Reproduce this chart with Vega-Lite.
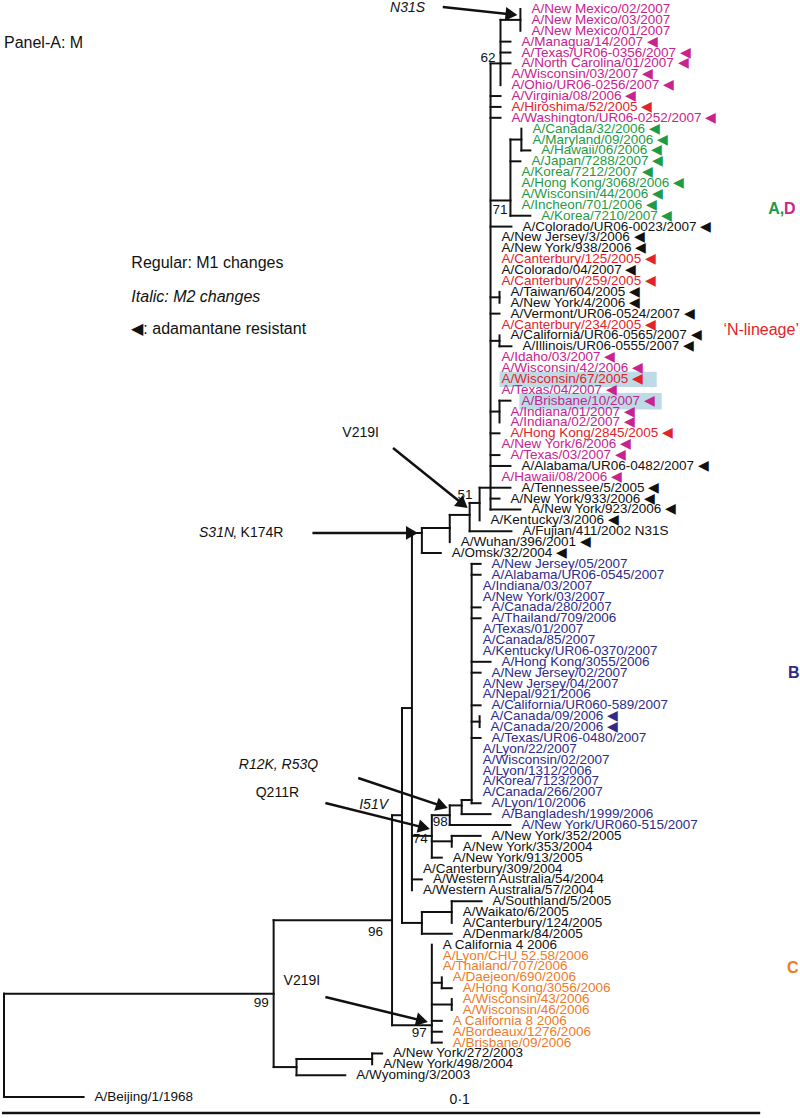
{
  "$schema": "https://vega.github.io/schema/vega-lite/v6.json",
  "width": 800,
  "height": 1118,
  "autosize": {"type": "fit", "contains": "padding"},
  "padding": 0,
  "background": "white",
  "config": {"view": {"stroke": null}, "text": {"font": "Liberation Sans"}},
  "datasets": {
    "leaves": [
      {"row": 0, "x": 521, "name": "A/New Mexico/02/2007", "grp": "D", "res": false},
      {"row": 1, "x": 521, "name": "A/New Mexico/03/2007", "grp": "D", "res": false},
      {"row": 2, "x": 521, "name": "A/New Mexico/01/2007", "grp": "D", "res": false},
      {"row": 3, "x": 511, "name": "A/Managua/14/2007", "grp": "D", "res": true},
      {"row": 4, "x": 511, "name": "A/Texas/UR06-0356/2007", "grp": "D", "res": true},
      {"row": 5, "x": 511, "name": "A/North Carolina/01/2007", "grp": "D", "res": true},
      {"row": 6, "x": 501, "name": "A/Wisconsin/03/2007", "grp": "D", "res": true},
      {"row": 7, "x": 501, "name": "A/Ohio/UR06-0256/2007", "grp": "D", "res": true},
      {"row": 8, "x": 501, "name": "A/Virginia/08/2006", "grp": "D", "res": true},
      {"row": 9, "x": 501, "name": "A/Hiroshima/52/2005", "grp": "N", "res": true},
      {"row": 10, "x": 501, "name": "A/Washington/UR06-0252/2007", "grp": "D", "res": true},
      {"row": 11, "x": 522, "name": "A/Canada/32/2006", "grp": "A", "res": true},
      {"row": 12, "x": 522, "name": "A/Maryland/09/2006", "grp": "A", "res": true},
      {"row": 13, "x": 531, "name": "A/Hawaii/06/2006", "grp": "A", "res": true},
      {"row": 14, "x": 521, "name": "A/Japan/7288/2007", "grp": "A", "res": true},
      {"row": 15, "x": 511, "name": "A/Korea/7212/2007", "grp": "A", "res": true},
      {"row": 16, "x": 511, "name": "A/Hong Kong/3068/2006", "grp": "A", "res": true},
      {"row": 17, "x": 511, "name": "A/Wisconsin/44/2006", "grp": "A", "res": true},
      {"row": 18, "x": 511, "name": "A/Incheon/701/2006", "grp": "A", "res": true},
      {"row": 19, "x": 531, "name": "A/Korea/7210/2007", "grp": "A", "res": true},
      {"row": 20, "x": 512, "name": "A/Colorado/UR06-0023/2007", "grp": "other", "res": true},
      {"row": 21, "x": 491, "name": "A/New Jersey/3/2006", "grp": "other", "res": true},
      {"row": 22, "x": 491, "name": "A/New York/938/2006", "grp": "other", "res": true},
      {"row": 23, "x": 491, "name": "A/Canterbury/125/2005", "grp": "N", "res": true},
      {"row": 24, "x": 491, "name": "A/Colorado/04/2007", "grp": "other", "res": true},
      {"row": 25, "x": 491, "name": "A/Canterbury/259/2005", "grp": "N", "res": true},
      {"row": 26, "x": 500, "name": "A/Taiwan/604/2005", "grp": "other", "res": true},
      {"row": 27, "x": 500, "name": "A/New York/4/2006", "grp": "other", "res": true},
      {"row": 28, "x": 500, "name": "A/Vermont/UR06-0524/2007", "grp": "other", "res": true},
      {"row": 29, "x": 491, "name": "A/Canterbury/234/2005", "grp": "N", "res": true},
      {"row": 30, "x": 500, "name": "A/California/UR06-0565/2007", "grp": "other", "res": true},
      {"row": 31, "x": 512, "name": "A/Illinois/UR06-0555/2007", "grp": "other", "res": true},
      {"row": 32, "x": 491, "name": "A/Idaho/03/2007", "grp": "D", "res": true},
      {"row": 33, "x": 491, "name": "A/Wisconsin/42/2006", "grp": "D", "res": true},
      {"row": 34, "x": 491, "name": "A/Wisconsin/67/2005", "grp": "N", "res": true},
      {"row": 35, "x": 491, "name": "A/Texas/04/2007", "grp": "D", "res": true},
      {"row": 36, "x": 511, "name": "A/Brisbane/10/2007", "grp": "D", "res": true},
      {"row": 37, "x": 500, "name": "A/Indiana/01/2007", "grp": "D", "res": true},
      {"row": 38, "x": 500, "name": "A/Indiana/02/2007", "grp": "D", "res": true},
      {"row": 39, "x": 500, "name": "A/Hong Kong/2845/2005", "grp": "N", "res": true},
      {"row": 40, "x": 491, "name": "A/New York/6/2006", "grp": "D", "res": true},
      {"row": 41, "x": 500, "name": "A/Texas/03/2007", "grp": "D", "res": true},
      {"row": 42, "x": 511, "name": "A/Alabama/UR06-0482/2007", "grp": "other", "res": true},
      {"row": 43, "x": 491, "name": "A/Hawaii/08/2006", "grp": "D", "res": true},
      {"row": 44, "x": 511, "name": "A/Tennessee/5/2005", "grp": "other", "res": true},
      {"row": 45, "x": 500, "name": "A/New York/933/2006", "grp": "other", "res": true},
      {"row": 46, "x": 521, "name": "A/New York/923/2006", "grp": "other", "res": true},
      {"row": 47, "x": 480, "name": "A/Kentucky/3/2006", "grp": "other", "res": true},
      {"row": 48, "x": 512, "name": "A/Fujian/411/2002 N31S", "grp": "other", "res": false},
      {"row": 49, "x": 450, "name": "A/Wuhan/396/2001", "grp": "other", "res": true},
      {"row": 50, "x": 441, "name": "A/Omsk/32/2004", "grp": "other", "res": true},
      {"row": 51, "x": 481, "name": "A/New Jersey/05/2007", "grp": "B", "res": false},
      {"row": 52, "x": 481, "name": "A/Alabama/UR06-0545/2007", "grp": "B", "res": false},
      {"row": 53, "x": 472, "name": "A/Indiana/03/2007", "grp": "B", "res": false},
      {"row": 54, "x": 472, "name": "A/New York/03/2007", "grp": "B", "res": false},
      {"row": 55, "x": 481, "name": "A/Canada/280/2007", "grp": "B", "res": false},
      {"row": 56, "x": 481, "name": "A/Thailand/709/2006", "grp": "B", "res": false},
      {"row": 57, "x": 472, "name": "A/Texas/01/2007", "grp": "B", "res": false},
      {"row": 58, "x": 472, "name": "A/Canada/85/2007", "grp": "B", "res": false},
      {"row": 59, "x": 472, "name": "A/Kentucky/UR06-0370/2007", "grp": "B", "res": false},
      {"row": 60, "x": 491, "name": "A/Hong Kong/3055/2006", "grp": "B", "res": false},
      {"row": 61, "x": 481, "name": "A/New Jersey/02/2007", "grp": "B", "res": false},
      {"row": 62, "x": 472, "name": "A/New Jersey/04/2007", "grp": "B", "res": false},
      {"row": 63, "x": 472, "name": "A/Nepal/921/2006", "grp": "B", "res": false},
      {"row": 64, "x": 481, "name": "A/California/UR060-589/2007", "grp": "B", "res": false},
      {"row": 65, "x": 480, "name": "A/Canada/09/2006", "grp": "B", "res": true},
      {"row": 66, "x": 480, "name": "A/Canada/20/2006", "grp": "B", "res": true},
      {"row": 67, "x": 481, "name": "A/Texas/UR06-0480/2007", "grp": "B", "res": false},
      {"row": 68, "x": 472, "name": "A/Lyon/22/2007", "grp": "B", "res": false},
      {"row": 69, "x": 472, "name": "A/Wisconsin/02/2007", "grp": "B", "res": false},
      {"row": 70, "x": 472, "name": "A/Lyon/1312/2006", "grp": "B", "res": false},
      {"row": 71, "x": 472, "name": "A/Korea/7123/2007", "grp": "B", "res": false},
      {"row": 72, "x": 472, "name": "A/Canada/266/2007", "grp": "B", "res": false},
      {"row": 73, "x": 481, "name": "A/Lyon/10/2006", "grp": "B", "res": false},
      {"row": 74, "x": 491, "name": "A/Bangladesh/1999/2006", "grp": "B", "res": false},
      {"row": 75, "x": 511, "name": "A/New York/UR060-515/2007", "grp": "B", "res": false},
      {"row": 76, "x": 481, "name": "A/New York/352/2005", "grp": "other", "res": false},
      {"row": 77, "x": 452, "name": "A/New York/353/2004", "grp": "other", "res": false},
      {"row": 78, "x": 442, "name": "A/New York/913/2005", "grp": "other", "res": false},
      {"row": 79, "x": 412, "name": "A/Canterbury/309/2004", "grp": "other", "res": false},
      {"row": 80, "x": 422, "name": "A/Western Australia/54/2004", "grp": "other", "res": false},
      {"row": 81, "x": 412, "name": "A/Western Australia/57/2004", "grp": "other", "res": false},
      {"row": 82, "x": 482, "name": "A/Southland/5/2005", "grp": "other", "res": false},
      {"row": 83, "x": 452, "name": "A/Waikato/6/2005", "grp": "other", "res": false},
      {"row": 84, "x": 452, "name": "A/Canterbury/124/2005", "grp": "other", "res": false},
      {"row": 85, "x": 452, "name": "A/Denmark/84/2005", "grp": "other", "res": false},
      {"row": 86, "x": 432, "name": "A California 4 2006", "grp": "other", "res": false},
      {"row": 87, "x": 432, "name": "A/Lyon/CHU 52.58/2006", "grp": "C", "res": false},
      {"row": 88, "x": 432, "name": "A/Thailand/707/2006", "grp": "C", "res": false},
      {"row": 89, "x": 442, "name": "A/Daejeon/690/2006", "grp": "C", "res": false},
      {"row": 90, "x": 452, "name": "A/Hong Kong/3056/2006", "grp": "C", "res": false},
      {"row": 91, "x": 452, "name": "A/Wisconsin/43/2006", "grp": "C", "res": false},
      {"row": 92, "x": 452, "name": "A/Wisconsin/46/2006", "grp": "C", "res": false},
      {"row": 93, "x": 442, "name": "A California 8 2006", "grp": "C", "res": false},
      {"row": 94, "x": 442, "name": "A/Bordeaux/1276/2006", "grp": "C", "res": false},
      {"row": 95, "x": 442, "name": "A/Brisbane/09/2006", "grp": "C", "res": false},
      {"row": 96, "x": 382, "name": "A/New York/272/2003", "grp": "other", "res": false},
      {"row": 97, "x": 372, "name": "A/New York/498/2004", "grp": "other", "res": false},
      {"row": 98, "x": 345, "name": "A/Wyoming/3/2003", "grp": "other", "res": false},
      {"row": 100, "x": 82, "name": "A/Beijing/1/1968", "grp": "other", "res": false}
    ],
    "segs": [
      {"x": 2, "x2": 2, "row": 90.5, "row2": 100},
      {"x": 2, "x2": 273, "row": 90.5, "row2": 90.5},
      {"x": 2, "x2": 82, "row": 100, "row2": 100},
      {"x": 273, "x2": 273, "row": 83.75, "row2": 97.25},
      {"x": 273, "x2": 392, "row": 83.75, "row2": 83.75},
      {"x": 273, "x2": 296, "row": 97.25, "row2": 97.25},
      {"x": 296, "x2": 296, "row": 96.5, "row2": 98},
      {"x": 296, "x2": 372, "row": 96.5, "row2": 96.5},
      {"x": 296, "x2": 345, "row": 98, "row2": 98},
      {"x": 372, "x2": 372, "row": 96, "row2": 97},
      {"x": 372, "x2": 382, "row": 96, "row2": 96},
      {"x": 392, "x2": 392, "row": 74.1, "row2": 93.4},
      {"x": 392, "x2": 402, "row": 74.1, "row2": 74.1},
      {"x": 392, "x2": 432, "row": 93.4, "row2": 93.4},
      {"x": 432, "x2": 432, "row": 86, "row2": 95},
      {"x": 432, "x2": 442, "row": 89.5, "row2": 89.5},
      {"x": 442, "x2": 442, "row": 89, "row2": 90},
      {"x": 442, "x2": 452, "row": 90, "row2": 90},
      {"x": 432, "x2": 452, "row": 91.5, "row2": 91.5},
      {"x": 452, "x2": 452, "row": 91, "row2": 92},
      {"x": 432, "x2": 442, "row": 93, "row2": 93},
      {"x": 432, "x2": 442, "row": 94, "row2": 94},
      {"x": 432, "x2": 442, "row": 95, "row2": 95},
      {"x": 402, "x2": 402, "row": 64.25, "row2": 84},
      {"x": 402, "x2": 412, "row": 64.25, "row2": 64.25},
      {"x": 402, "x2": 422, "row": 84, "row2": 84},
      {"x": 422, "x2": 422, "row": 83, "row2": 85},
      {"x": 422, "x2": 452, "row": 83, "row2": 83},
      {"x": 422, "x2": 452, "row": 85, "row2": 85},
      {"x": 452, "x2": 452, "row": 82, "row2": 84},
      {"x": 452, "x2": 482, "row": 82, "row2": 82},
      {"x": 412, "x2": 412, "row": 48.16, "row2": 81},
      {"x": 412, "x2": 422, "row": 48.16, "row2": 48.16},
      {"x": 412, "x2": 432, "row": 76, "row2": 76},
      {"x": 412, "x2": 422, "row": 80, "row2": 80},
      {"x": 432, "x2": 432, "row": 74.1, "row2": 78},
      {"x": 432, "x2": 450, "row": 74.1, "row2": 74.1},
      {"x": 432, "x2": 452, "row": 76.5, "row2": 76.5},
      {"x": 432, "x2": 442, "row": 78, "row2": 78},
      {"x": 452, "x2": 452, "row": 76, "row2": 77},
      {"x": 452, "x2": 481, "row": 76, "row2": 76},
      {"x": 450, "x2": 450, "row": 73.2, "row2": 75},
      {"x": 450, "x2": 462, "row": 73.2, "row2": 73.2},
      {"x": 450, "x2": 511, "row": 75, "row2": 75},
      {"x": 462, "x2": 462, "row": 72.7, "row2": 74},
      {"x": 462, "x2": 472, "row": 72.7, "row2": 72.7},
      {"x": 462, "x2": 491, "row": 74, "row2": 74},
      {"x": 472, "x2": 472, "row": 51, "row2": 73},
      {"x": 472, "x2": 481, "row": 51, "row2": 51},
      {"x": 472, "x2": 481, "row": 52, "row2": 52},
      {"x": 472, "x2": 481, "row": 55, "row2": 55},
      {"x": 472, "x2": 481, "row": 56, "row2": 56},
      {"x": 472, "x2": 491, "row": 60, "row2": 60},
      {"x": 472, "x2": 481, "row": 61, "row2": 61},
      {"x": 472, "x2": 481, "row": 64, "row2": 64},
      {"x": 472, "x2": 480, "row": 65.5, "row2": 65.5},
      {"x": 480, "x2": 480, "row": 65, "row2": 66},
      {"x": 472, "x2": 481, "row": 67, "row2": 67},
      {"x": 472, "x2": 481, "row": 73, "row2": 73},
      {"x": 422, "x2": 422, "row": 47.7, "row2": 50},
      {"x": 422, "x2": 450, "row": 47.7, "row2": 47.7},
      {"x": 422, "x2": 441, "row": 50, "row2": 50},
      {"x": 450, "x2": 450, "row": 46.5, "row2": 49},
      {"x": 450, "x2": 470, "row": 46.5, "row2": 46.5},
      {"x": 470, "x2": 470, "row": 45.4, "row2": 48},
      {"x": 470, "x2": 480, "row": 45.4, "row2": 45.4},
      {"x": 470, "x2": 512, "row": 48, "row2": 48},
      {"x": 480, "x2": 480, "row": 44, "row2": 47},
      {"x": 480, "x2": 491, "row": 44, "row2": 44},
      {"x": 491, "x2": 491, "row": 5, "row2": 46},
      {"x": 491, "x2": 501, "row": 5, "row2": 5},
      {"x": 491, "x2": 501, "row": 8, "row2": 8},
      {"x": 491, "x2": 501, "row": 9, "row2": 9},
      {"x": 491, "x2": 501, "row": 10, "row2": 10},
      {"x": 491, "x2": 511, "row": 17.6, "row2": 17.6},
      {"x": 491, "x2": 512, "row": 20, "row2": 20},
      {"x": 491, "x2": 500, "row": 26.5, "row2": 26.5},
      {"x": 500, "x2": 500, "row": 26, "row2": 27},
      {"x": 491, "x2": 500, "row": 28, "row2": 28},
      {"x": 491, "x2": 500, "row": 30.5, "row2": 30.5},
      {"x": 500, "x2": 500, "row": 30, "row2": 31},
      {"x": 500, "x2": 512, "row": 31, "row2": 31},
      {"x": 491, "x2": 500, "row": 37, "row2": 37},
      {"x": 500, "x2": 500, "row": 36, "row2": 38},
      {"x": 500, "x2": 511, "row": 36, "row2": 36},
      {"x": 491, "x2": 500, "row": 39, "row2": 39},
      {"x": 491, "x2": 500, "row": 41, "row2": 41},
      {"x": 491, "x2": 511, "row": 42, "row2": 42},
      {"x": 491, "x2": 511, "row": 44, "row2": 44},
      {"x": 491, "x2": 500, "row": 45, "row2": 45},
      {"x": 491, "x2": 521, "row": 46, "row2": 46},
      {"x": 501, "x2": 501, "row": 1, "row2": 7},
      {"x": 501, "x2": 521, "row": 1, "row2": 1},
      {"x": 521, "x2": 521, "row": 0, "row2": 2},
      {"x": 501, "x2": 511, "row": 3, "row2": 3},
      {"x": 501, "x2": 511, "row": 4, "row2": 4},
      {"x": 501, "x2": 511, "row": 5, "row2": 5},
      {"x": 511, "x2": 511, "row": 12, "row2": 19},
      {"x": 511, "x2": 522, "row": 12, "row2": 12},
      {"x": 522, "x2": 522, "row": 11, "row2": 13},
      {"x": 522, "x2": 531, "row": 13, "row2": 13},
      {"x": 511, "x2": 521, "row": 14, "row2": 14},
      {"x": 511, "x2": 531, "row": 19, "row2": 19}
    ],
    "boxes": [
      {"x": 500, "x2": 658, "row": 33.35, "row2": 34.75},
      {"x": 520, "x2": 663, "row": 35.3, "row2": 36.8}
    ],
    "boot": [
      {"text": "62", "x": 496, "row": 4.5},
      {"text": "71", "x": 508, "row": 18.47},
      {"text": "51", "x": 473, "row": 44.67},
      {"text": "98", "x": 448, "row": 74.72},
      {"text": "74", "x": 428, "row": 76.3},
      {"text": "96", "x": 383, "row": 84.83},
      {"text": "97", "x": 427, "row": 94.12},
      {"text": "99", "x": 268, "row": 91.36}
    ],
    "notes": [
      {"text": "V219I", "x": 342, "row": 38.97, "kind": "reg"},
      {"text": ", K174R", "x": 232, "row": 48.16, "kind": "reg"},
      {"text": "Q211R", "x": 255, "row": 72.06, "kind": "reg"},
      {"text": "V219I", "x": 283, "row": 89.34, "kind": "reg"},
      {"text": "N31S", "x": 390, "row": -0.09, "kind": "ital"},
      {"text": "S31N", "x": 198, "row": 48.16, "kind": "ital"},
      {"text": "R12K, R53Q", "x": 238, "row": 69.49, "kind": "ital"},
      {"text": "I51V", "x": 359, "row": 73.16, "kind": "ital"},
      {"text": "Panel-A: M", "x": 2, "row": 3.13, "kind": "big"},
      {"text": "Regular: M1 changes", "x": 130, "row": 23.35, "kind": "big"},
      {"text": "◀: adamantane resistant", "x": 130, "row": 29.41, "kind": "big"},
      {"text": "Italic: M2 changes", "x": 130, "row": 26.47, "kind": "bigital"}
    ],
    "clades": [
      {"text": "A,", "x": 770, "row": 18.38, "grp": "A"},
      {"text": "D", "x": 786, "row": 18.38, "grp": "D"},
      {"text": "B", "x": 790, "row": 61.03, "grp": "B"},
      {"text": "C", "x": 789, "row": 88.14, "grp": "C"}
    ],
    "lineage": [
      {"text": "‘N-lineage’", "x": 725, "row": 29.5, "grp": "N"}
    ],
    "arrows": [
      {"x": 443, "row": -0.18, "x2": 512, "row2": 0.5},
      {"x": 393, "row": 40.35, "x2": 463.3, "row2": 45.52},
      {"x": 312, "row": 48.16, "x2": 412, "row2": 48.16},
      {"x": 358, "row": 70.68, "x2": 442.3, "row2": 73.26},
      {"x": 325, "row": 72.98, "x2": 424.2, "row2": 75.24},
      {"x": 325, "row": 90.81, "x2": 422.2, "row2": 92.98}
    ],
    "scalebar": [
      {"x": 0, "x2": 762, "row": 101.47, "label": "0·1", "lx": 460, "lrow": 100.28}
    ]
  },
  "encoding": {
    "x": {"field": "x", "type": "quantitative", "scale": {"domain": [0, 800], "nice": false, "zero": false}, "axis": null},
    "y": {"field": "row", "type": "quantitative", "scale": {"domain": [-0.827, 101.93], "nice": false, "zero": false, "reverse": true}, "axis": null}
  },
  "layer": [
    {
      "data": {"name": "boxes"},
      "mark": {"type": "rect", "fill": "#bcdbe6"},
      "encoding": {"x2": {"field": "x2"}, "y2": {"field": "row2"}}
    },
    {
      "data": {"name": "segs"},
      "mark": {"type": "rule", "color": "#111111", "strokeWidth": 2, "strokeCap": "square"},
      "encoding": {"x2": {"field": "x2"}, "y2": {"field": "row2"}}
    },
    {
      "data": {"name": "leaves"},
      "transform": [{"calculate": "datum.res ? datum.name + '  ◀' : datum.name", "as": "disp"}],
      "mark": {"type": "text", "align": "left", "baseline": "middle", "dx": 11, "fontSize": 13.5},
      "encoding": {
        "text": {"field": "disp"},
        "color": {"field": "grp", "type": "nominal", "legend": null,
          "scale": {"domain": ["D", "A", "N", "other", "B", "C"], "range": ["#c8238e", "#1f9a46", "#e3232c", "#111111", "#2e2b8a", "#ee7b28"]}}
      }
    },
    {
      "data": {"name": "boot"},
      "mark": {"type": "text", "align": "right", "baseline": "middle", "fontSize": 13.5, "color": "#111111"},
      "encoding": {"text": {"field": "text"}}
    },
    {
      "data": {"name": "notes"},
      "transform": [{"filter": "datum.kind == 'reg'"}],
      "mark": {"type": "text", "align": "left", "baseline": "middle", "fontSize": 14, "color": "#111111"},
      "encoding": {"text": {"field": "text"}}
    },
    {
      "data": {"name": "notes"},
      "transform": [{"filter": "datum.kind == 'ital'"}],
      "mark": {"type": "text", "align": "left", "baseline": "middle", "fontSize": 14, "fontStyle": "italic", "color": "#111111"},
      "encoding": {"text": {"field": "text"}}
    },
    {
      "data": {"name": "notes"},
      "transform": [{"filter": "datum.kind == 'big'"}],
      "mark": {"type": "text", "align": "left", "baseline": "middle", "fontSize": 16, "color": "#111111"},
      "encoding": {"text": {"field": "text"}}
    },
    {
      "data": {"name": "notes"},
      "transform": [{"filter": "datum.kind == 'bigital'"}],
      "mark": {"type": "text", "align": "left", "baseline": "middle", "fontSize": 16, "fontStyle": "italic", "color": "#111111"},
      "encoding": {"text": {"field": "text"}}
    },
    {
      "data": {"name": "clades"},
      "mark": {"type": "text", "align": "left", "baseline": "middle", "fontSize": 16, "fontWeight": "bold"},
      "encoding": {"text": {"field": "text"}, "color": {"field": "grp", "type": "nominal", "legend": null}}
    },
    {
      "data": {"name": "lineage"},
      "mark": {"type": "text", "align": "left", "baseline": "middle", "fontSize": 16},
      "encoding": {"text": {"field": "text"}, "color": {"field": "grp", "type": "nominal", "legend": null}}
    },
    {
      "data": {"name": "arrows"},
      "mark": {"type": "rule", "color": "#111111", "strokeWidth": 2.5},
      "encoding": {"x2": {"field": "x2"}, "y2": {"field": "row2"}}
    },
    {
      "data": {"name": "arrows"},
      "transform": [{"calculate": "atan2((datum.row2 - datum.row) * 10.88, datum.x2 - datum.x) * 180 / PI", "as": "ang"}],
      "mark": {"type": "point", "shape": "triangle-right", "filled": true, "color": "#111111", "size": 190, "opacity": 1},
      "encoding": {
        "x": {"field": "x2", "type": "quantitative"},
        "y": {"field": "row2", "type": "quantitative"},
        "angle": {"field": "ang", "type": "quantitative", "scale": null}
      }
    },
    {
      "data": {"name": "scalebar"},
      "mark": {"type": "rule", "color": "#111111", "strokeWidth": 2.5},
      "encoding": {"x2": {"field": "x2"}, "y2": {"field": "row"}}
    },
    {
      "data": {"name": "scalebar"},
      "mark": {"type": "text", "align": "center", "baseline": "middle", "fontSize": 14, "color": "#111111"},
      "encoding": {"x": {"field": "lx", "type": "quantitative"}, "y": {"field": "lrow", "type": "quantitative"}, "text": {"field": "label"}}
    }
  ]
}
